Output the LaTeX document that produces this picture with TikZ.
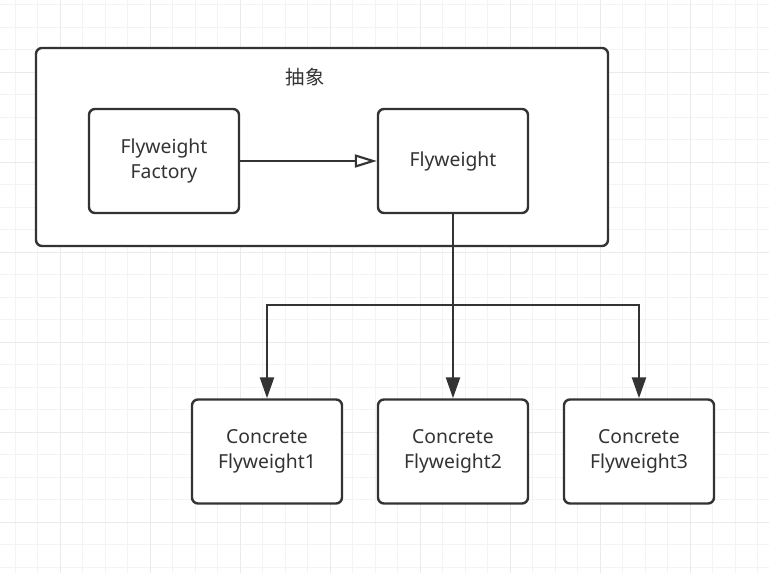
\documentclass[tikz,border=0pt]{standalone}
\usepackage{fontspec}
\setmainfont{Noto Sans}
\newfontfamily\cjk{Noto Sans CJK SC}
\usetikzlibrary{arrows.meta}
\definecolor{ink}{HTML}{333333}
\definecolor{gridminor}{HTML}{F3F3F3}
\definecolor{gridmajor}{HTML}{EAEAEA}
\tikzset{
  box/.style={draw=ink,line width=1.8pt,rounded corners=4.5pt,fill=white,
    minimum width=112.5pt,minimum height=78pt,align=center,text=ink,
    font=\fontsize{14.5}{18.75}\selectfont},
  link/.style={draw=ink,line width=1.8pt},
  fill tip/.style={-{Triangle[length=15.75pt,width=10.5pt]}},
  open tip/.style={-{Triangle[open,length=16.5pt,width=9.75pt,line width=1.6pt]}}
}
\begin{document}
\begin{tikzpicture}[x=0.75pt,y=-0.75pt]
\useasboundingbox (0,0) rectangle (769,573);
\fill[white] (0,0) rectangle (769,573);
% grid
\foreach \k in {0,...,33} {
  \draw[gridminor,line width=0.75pt] (15+22.5*\k,0) -- (15+22.5*\k,573);
}
\foreach \k in {0,...,25} {
  \draw[gridminor,line width=0.75pt] (0,5+22.5*\k) -- (769,5+22.5*\k);
}
\foreach \k in {0,...,8} {
  \draw[gridmajor,line width=0.75pt] (60+90*\k,0) -- (60+90*\k,573);
}
\foreach \k in {0,...,5} {
  \draw[gridmajor,line width=0.75pt] (0,72.5+90*\k) -- (769,72.5+90*\k);
}
% container
\node[draw=ink,line width=1.8pt,rounded corners=4.5pt,fill=white,
  minimum width=429pt,minimum height=148.5pt] (abstract) at (322,147) {};
\node[text=ink,font=\cjk\fontsize{14.5}{16}\selectfont] (abslabel) at (305,77) {抽象};
\node[box] (factory) at (164,161) {Flyweight\\Factory};
\node[box] (fly) at (453,161) {Flyweight};
\node[box,minimum height=78pt] (cf1) at (267,451.5) {Concrete\\Flyweight1};
\node[box] (cf2) at (453,451.5) {Concrete\\Flyweight2};
\node[box] (cf3) at (639,451.5) {Concrete\\Flyweight3};
\coordinate (split) at (fly.south |- 0,305);
% connectors
\draw[link,open tip] (factory) -- (fly);
\draw[link,fill tip] (fly) -- (cf2);
\draw[link,fill tip] (split) -| (cf1);
\draw[link,fill tip] (split) -| (cf3);
\end{tikzpicture}
\end{document}
